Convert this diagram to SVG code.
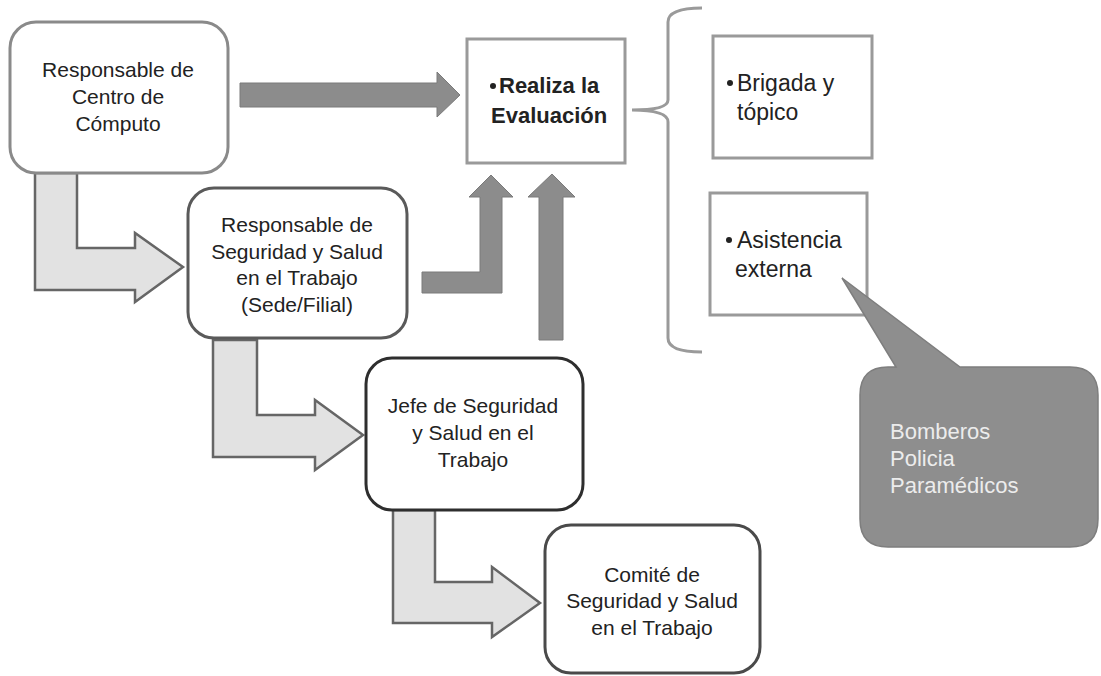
<svg xmlns="http://www.w3.org/2000/svg" width="1101" height="676" viewBox="0 0 1101 676">
<style>
.t{font-family:"Liberation Sans",Arial,sans-serif;font-size:21px;fill:#222;text-anchor:middle}
.tl{font-family:"Liberation Sans",Arial,sans-serif;font-size:23px;fill:#222}
.tb{font-family:"Liberation Sans",Arial,sans-serif;font-size:22px;font-weight:bold;fill:#222}
.ct{font-family:"Liberation Sans",Arial,sans-serif;font-size:22px;fill:#ececec}
.rb{fill:#fff;stroke-width:3}
.sq{fill:#fff;stroke:#9a9a9a;stroke-width:3}
.la{fill:#e2e2e2;stroke:#666;stroke-width:2.5;stroke-linejoin:miter}
.da{fill:#8c8c8c;stroke:#7a7a7a;stroke-width:1}
</style>
<rect width="1101" height="676" fill="#fff"/>
<g id="connectors">
<polygon class="da" points="240,83 437,83 437,72 460,95 437,117 437,107 240,107"/>
<polygon class="da" points="422,272 480,272 480,197 469,197 491,175 513,197 502,197 502,293 422,293"/>
<polygon class="da" points="539,340 539,197 528,197 552,174 575,197 563,197 563,340"/>
<polygon class="la" points="35,173 77,173 77,248 135,248 135,233 183,267 135,302 135,290 35,290"/>
<polygon class="la" points="213,340 257,340 257,415 315,415 315,400 363,435 315,470 315,457 213,457"/>
<polygon class="la" points="393,510 435,510 435,582 492,582 492,567 540,603 492,637 492,623 393,623"/>
<path d="M702,8 Q668,8 668,22 L668,100 Q668,110 632,110 Q668,110 668,122 L668,338 Q668,352 702,352" fill="none" stroke="#9a9a9a" stroke-width="3"/>
</g>
<g id="n1">
<rect class="rb" x="10" y="22" width="218" height="151" rx="26" stroke="#8a8a8a"/>
<text class="t" x="118" y="77">Responsable de</text>
<text class="t" x="118" y="104">Centro de</text>
<text class="t" x="118" y="131">Cómputo</text>
</g>
<g id="n2">
<rect class="rb" x="188" y="188" width="219" height="150" rx="26" stroke="#5a5a5a"/>
<text class="t" x="297" y="232">Responsable de</text>
<text class="t" x="297" y="259">Seguridad y Salud</text>
<text class="t" x="297" y="285">en el Trabajo</text>
<text class="t" x="297" y="312">(Sede/Filial)</text>
</g>
<g id="n3">
<rect class="rb" x="366" y="358" width="217" height="152" rx="26" stroke="#2e2e2e"/>
<text class="t" x="473" y="413">Jefe de Seguridad</text>
<text class="t" x="473" y="440">y Salud en el</text>
<text class="t" x="473" y="467">Trabajo</text>
</g>
<g id="n4">
<rect class="rb" x="545" y="525" width="215" height="148" rx="26" stroke="#4a4a4a"/>
<text class="t" x="652" y="582">Comité de</text>
<text class="t" x="652" y="608">Seguridad y Salud</text>
<text class="t" x="652" y="635">en el Trabajo</text>
</g>
<g id="eval">
<rect class="sq" x="467" y="39" width="158" height="124"/>
<circle cx="493" cy="86" r="3" fill="#222"/>
<text class="tb" x="499" y="93">Realiza la</text>
<text class="tb" x="491" y="123">Evaluación</text>
</g>
<g id="brigada">
<rect class="sq" x="713" y="36" width="159" height="122"/>
<circle cx="730" cy="83" r="3" fill="#222"/>
<text class="tl" x="737" y="91">Brigada y</text>
<text class="tl" x="737" y="120">tópico</text>
</g>
<g id="asistencia">
<rect class="sq" x="710" y="193" width="157" height="122"/>
<circle cx="729" cy="240" r="3" fill="#222"/>
<text class="tl" x="737" y="248">Asistencia</text>
<text class="tl" x="735" y="277">externa</text>
</g>
<g id="callout">
<path d="M842,278 L960,367 L1070,367 Q1098,367 1098,395 L1098,519 Q1098,547 1070,547 L888,547 Q860,547 860,519 L860,395 Q860,367 888,367 L896,367 Z" fill="#8e8e8e" stroke="#7e7e7e" stroke-width="1.5"/>
<text class="ct" x="890" y="439">Bomberos</text>
<text class="ct" x="890" y="466">Policia</text>
<text class="ct" x="890" y="493">Paramédicos</text>
</g>
</svg>
